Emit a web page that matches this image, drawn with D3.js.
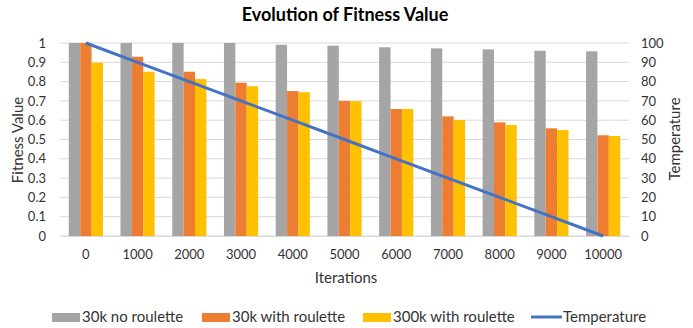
<!DOCTYPE html>
<html>
<head>
<meta charset="utf-8">
<script src="https://cdn.jsdelivr.net/npm/d3@7"></script>
<style>
  body { margin: 0; background: #fff; }
  text { font-family: Lato, "Open Sans", sans-serif; fill: #333; }
</style>
</head>
<body>
<div id="chart"></div>
<script>
// data
const iterations = ["0", "1000", "2000", "3000", "4000", "5000", "6000", "7000", "8000", "9000", "10000"];
const noRoulette30k = [1, 1, 1, 1, 0.991, 0.986, 0.978, 0.972, 0.967, 0.96, 0.957];
const withRoulette30k = [1, 0.929, 0.851, 0.794, 0.751, 0.7, 0.658, 0.62, 0.589, 0.558, 0.522];
const withRoulette300k = [0.898, 0.851, 0.813, 0.776, 0.745, 0.699, 0.658, 0.601, 0.575, 0.549, 0.518];
const temperature = [100, 90, 80, 70, 60, 50, 40, 30, 20, 10, 0];
const leftTicks = [0, 0.1, 0.2, 0.3, 0.4, 0.5, 0.6, 0.7, 0.8, 0.9, 1];
const rightTicks = [0, 10, 20, 30, 40, 50, 60, 70, 80, 90, 100];

const series = [
    { name: "30k no roulette", values: noRoulette30k, color: "#A5A5A5" },
    { name: "30k with roulette", values: withRoulette30k, color: "#ED7D31" },
    { name: "300k with roulette", values: withRoulette300k, color: "#FFC000" }
];

const W = 693, H = 328;
const margin = { top: 43, right: 64, bottom: 92, left: 60 },
    width = W - margin.left - margin.right,
    height = H - margin.top - margin.bottom;

const svg = d3.select("#chart")
    .append("svg")
    .attr("width", W)
    .attr("height", H);

// title
svg.append("text")
    .attr("x", 345).attr("y", 21)
    .attr("text-anchor", "middle")
    .style("font-size", "18px")
    .style("font-weight", "bold")
    .style("fill", "#000")
    .text("Evolution of Fitness Value");

const g = svg.append("g")
    .attr("transform", `translate(${margin.left}, ${margin.top})`);

const x = d3.scaleBand()
    .domain(iterations)
    .range([0, width])
    .paddingInner(0.34)
    .paddingOuter(0.17);

const xs = d3.scaleBand()
    .domain(series.map(d => d.name))
    .range([0, x.bandwidth()]);

const y = d3.scaleLinear().domain([0, 1]).range([height, 0]);
const y2 = d3.scaleLinear().domain([0, 100]).range([height, 0]);

// gridlines
g.append("g")
    .selectAll("line")
    .data(leftTicks)
    .join("line")
    .attr("x1", 0).attr("x2", width)
    .attr("y1", d => y(d)).attr("y2", d => y(d))
    .attr("stroke", "#d9d9d9")
    .attr("stroke-width", 1);

// left axis
const yAxis = g.append("g")
    .call(d3.axisLeft(y).tickValues(leftTicks).tickSize(0).tickPadding(14).tickFormat(d3.format("~g")));
yAxis.select(".domain").remove();
yAxis.selectAll("text").style("font-size", "13px");

// right axis
const y2Axis = g.append("g")
    .attr("transform", `translate(${width}, 0)`)
    .call(d3.axisRight(y2).tickValues(rightTicks).tickSize(0).tickPadding(12));
y2Axis.select(".domain").remove();
y2Axis.selectAll("text").style("font-size", "13px");

// bars
series.forEach(s => {
    g.append("g")
        .selectAll("rect")
        .data(s.values)
        .join("rect")
        .attr("x", (d, i) => x(iterations[i]) + xs(s.name))
        .attr("y", d => y(d))
        .attr("width", xs.bandwidth())
        .attr("height", d => height - y(d))
        .attr("fill", s.color);
});

// x axis
const xAxis = g.append("g")
    .attr("transform", `translate(0, ${height})`)
    .call(d3.axisBottom(x).tickSize(0).tickPadding(14));
xAxis.select(".domain").attr("stroke", "#d9d9d9");
xAxis.selectAll("text").style("font-size", "13px");

// temperature line
g.append("path")
    .datum(temperature)
    .attr("fill", "none")
    .attr("stroke", "#4472C4")
    .attr("stroke-width", 3)
    .attr("d", d3.line()
        .x((d, i) => x(iterations[i]) + x.bandwidth() / 2)
        .y(d => y2(d)));

// axis titles
svg.append("text")
    .attr("x", 346).attr("y", 283)
    .attr("text-anchor", "middle")
    .style("font-size", "15px")
    .text("Iterations");

svg.append("text")
    .attr("transform", "translate(23, 140) rotate(-90)")
    .attr("text-anchor", "middle")
    .style("font-size", "15px")
    .text("Fitness Value");

svg.append("text")
    .attr("transform", "translate(680, 139) rotate(-90)")
    .attr("text-anchor", "middle")
    .style("font-size", "15px")
    .text("Temperature");

// legend
const legendItems = [
    { name: series[0].name, color: series[0].color, x: 52, type: "box" },
    { name: series[1].name, color: series[1].color, x: 202, type: "box" },
    { name: series[2].name, color: series[2].color, x: 363, type: "box" },
    { name: "Temperature", color: "#4472C4", x: 531, type: "line" }
];
const legend = svg.append("g").attr("transform", "translate(0, 317)");
legendItems.forEach(it => {
    if (it.type === "box") {
        legend.append("rect")
            .attr("x", it.x).attr("y", -4)
            .attr("width", 28).attr("height", 9)
            .attr("fill", it.color);
    } else {
        legend.append("line")
            .attr("x1", it.x).attr("x2", it.x + 31)
            .attr("y1", 0).attr("y2", 0)
            .attr("stroke", it.color)
            .attr("stroke-width", 3);
    }
    legend.append("text")
        .attr("x", it.x + (it.type === "box" ? 30 : 32))
        .attr("y", 5)
        .style("font-size", "15px")
        .text(it.name);
});
</script>
</body>
</html>
